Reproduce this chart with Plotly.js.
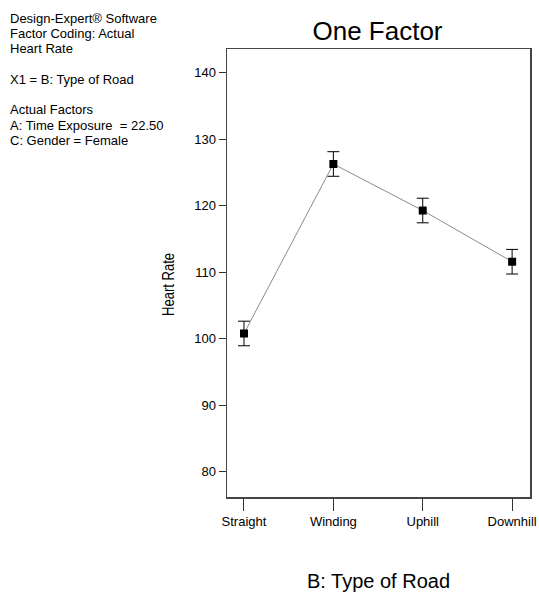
<!DOCTYPE html>
<html>
<head>
<meta charset="utf-8">
<script src="https://cdn.plot.ly/plotly-3.0.1.min.js"></script>
<style>html,body{margin:0;padding:0;background:#fff;}#chart{width:539px;height:594px;}</style>
</head>
<body>
<div id="chart"></div>
<script>
const categories = ["Straight", "Winding", "Uphill", "Downhill"];
const heartRate = [100.8, 126.3, 119.3, 111.6];
const errorHalf = [1.85, 1.85, 1.85, 1.85];
const yTicks = [80, 90, 100, 110, 120, 130, 140];
const infoLines = [
  "Design-Expert® Software",
  "Factor Coding: Actual",
  "Heart Rate",
  "",
  "X1 = B: Type of Road",
  "",
  "Actual Factors",
  "A: Time Exposure  = 22.50",
  "C: Gender = Female"
];

const xIdx = categories.map((c, i) => i);
const font = "Liberation Sans, Arial, sans-serif";

// plot-area geometry in pixels
const L = 227, R = 530, T = 49, B = 497;
const PW = R - L, PH = B - T;

const trace = {
  x: xIdx,
  y: heartRate,
  type: "scatter",
  mode: "lines+markers",
  line: {color: "#8c8c8c", width: 1},
  marker: {symbol: "square", color: "#000", size: 8},
  error_y: {type: "data", array: errorHalf, visible: true, color: "#000", thickness: 1, width: 6},
  showlegend: false,
  hoverinfo: "skip"
};

const infoAnnotations = infoLines.map((t, k) => ({
  xref: "paper", yref: "paper",
  x: (8 - L) / PW, y: (B - (18.3 + 15.25 * k)) / PH,
  xanchor: "left", yanchor: "middle", align: "left",
  showarrow: false, text: t,
  font: {family: font, size: 13, color: "#000"}
})).filter(a => a.text !== "");

const layout = {
  width: 539, height: 594,
  margin: {l: L, r: 539 - R, t: T, b: 594 - B},
  paper_bgcolor: "#fff", plot_bgcolor: "#fff",
  font: {family: font, color: "#000", size: 13},
  title: {text: "One Factor", font: {family: font, size: 26, color: "#000"},
          xref: "container", yref: "container",
          x: 377.5 / 539, xanchor: "center", y: 1 - 31 / 594, yanchor: "middle"},
  xaxis: {
    range: [-0.19, 3.2],
    tickmode: "array", tickvals: xIdx, ticktext: categories,
    ticks: "outside", ticklen: 12, tickcolor: "#333", tickwidth: 1,
    showline: true, linecolor: "#444", linewidth: 1.5, mirror: true,
    showgrid: false, zeroline: false,
    tickfont: {family: font, size: 13, color: "#000"},
    title: {text: "B: Type of Road", font: {family: font, size: 20, color: "#000"}, standoff: 46}
  },
  yaxis: {
    range: [76.2, 143.6],
    tickmode: "array", tickvals: yTicks,
    ticks: "outside", ticklen: 7, tickcolor: "#333", tickwidth: 1,
    showline: true, linecolor: "#444", linewidth: 1.5, mirror: true,
    showgrid: false, zeroline: false,
    tickfont: {family: font, size: 13, color: "#000"},
    title: {text: "Heart Rate", font: {family: font, size: 16, color: "#000"}, standoff: 20}
  },
  annotations: infoAnnotations
};

Plotly.newPlot("chart", [trace], layout, {displayModeBar: false, staticPlot: true}).then(gd => {
  try {
    const yt = gd.querySelector(".ytitle");
    if (yt) {
      const x = parseFloat(yt.getAttribute("x"));
      const y = parseFloat(yt.getAttribute("y"));
      const targetCenter = 284.5;
      const ny = y + (targetCenter - (T + PH / 2));
      const nx = 169 + 5;
      yt.setAttribute("x", nx);
      yt.setAttribute("y", ny);
      yt.setAttribute("transform", "rotate(-90," + nx + "," + ny + ")");
      yt.setAttribute("textLength", "63");
      yt.setAttribute("lengthAdjust", "spacingAndGlyphs");
    }
  } catch (e) {}
});
</script>
</body>
</html>
